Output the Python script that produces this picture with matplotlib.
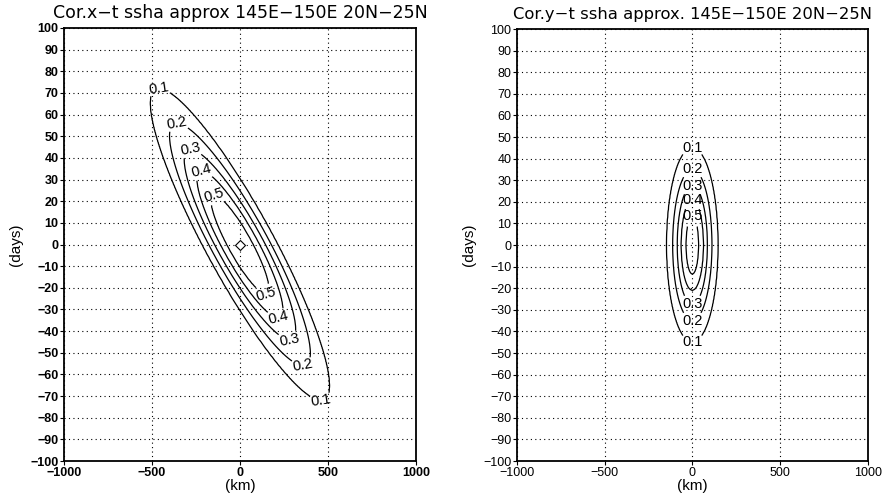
import numpy as np
import matplotlib
matplotlib.use("Agg")
import matplotlib.pyplot as plt

# contour levels drawn in both panels
levels = [0.1, 0.2, 0.3, 0.4, 0.5]

# Cor.x-t: half width at lag 0 (km) and half length along the ridge (days) per level
xt_halfwidth = [215, 178, 145, 112, 76]
xt_halflag = [72, 56, 44, 34, 23]
xt_speed = -6.4  # km/day, slope of the ridge

# Cor.y-t: half width at lag 0 (km) and half length in lag (days) per level
yt_halfwidth = [146, 112, 86, 64, 36]
yt_halflag = [45, 35, 27.5, 21, 13.5]
yt_speed = 0.0

# diamond marks the zero-lag point in the x-t panel
peak_x = [0]
peak_t = [0]

dist = np.linspace(-1000, 1000, 501)
lag = np.linspace(-100, 100, 401)
D, L = np.meshgrid(dist, lag)


def build_field(halfwidth, halflag, speed):
    # nested ellipses in (dist - speed*lag, lag), value interpolated between levels
    u = D - speed * L
    s = np.array([np.sqrt((u / a) ** 2 + (L / b) ** 2)
                  for a, b in zip(halfwidth, halflag)])
    lev = np.array(levels)
    n = (s < 1).sum(axis=0)
    field = np.empty_like(D)
    out = n == 0
    field[out] = lev[0] / s[0][out]
    inner = n == len(lev)
    field[inner] = lev[-1] + 0.1 * (1 - s[-1][inner])
    for k in range(1, len(lev)):
        m = n == k
        lo, hi = s[k - 1][m], s[k][m]
        field[m] = lev[k - 1] + (lev[k] - lev[k - 1]) * (1 - lo) / (hi - lo)
    return field


def draw_panel(ax, field, title, tsize, halflag, speed, bottom_labels, bold):
    cs = ax.contour(D, L, field, levels=levels, colors="black", linewidths=0.9)
    pos = [(speed * b, b) for b in halflag]
    pos += [(-speed * b, -b) for b in halflag[:bottom_labels]]
    ax.clabel(cs, manual=pos, fmt="%.1f", inline=True, inline_spacing=2,
              fontsize=10.5)

    ax.set_xlim(-1000, 1000)
    ax.set_ylim(-100, 100)
    ax.set_xticks([-1000, -500, 0, 500, 1000])
    ax.set_yticks(np.arange(-100, 101, 10))
    ax.grid(True, color="black", linestyle=(0, (1, 3)), linewidth=0.8)
    ax.tick_params(direction="out", length=3, width=0.8, labelsize=9, pad=1)
    for lab in ax.get_xticklabels() + ax.get_yticklabels():
        lab.set_fontweight("bold" if bold else "normal")
    for sp in ax.spines.values():
        sp.set_linewidth(1.3)
    ax.set_xlabel("(km)", fontsize=11, labelpad=0)
    ax.set_ylabel("(days)", fontsize=11, labelpad=5)
    ax.set_title(title, fontsize=tsize, pad=7, family=["DejaVu Sans"])


plt.rcParams["font.family"] = ["Liberation Sans", "DejaVu Sans"]
fig = plt.figure(figsize=(8.91, 5.0), dpi=100)
ax1 = fig.add_axes([0.0718, 0.078, 0.395, 0.866])
ax2 = fig.add_axes([0.580, 0.078, 0.394, 0.864])

draw_panel(ax1, build_field(xt_halfwidth, xt_halflag, xt_speed),
           "Cor.x\u2212t ssha approx 145E\u2212150E 20N\u221225N", 12.5,
           xt_halflag, xt_speed, 5, True)
ax1.plot(peak_x, peak_t, marker="D", markersize=5, mfc="white", mec="black",
         mew=0.8, linestyle="none")

draw_panel(ax2, build_field(yt_halfwidth, yt_halflag, yt_speed),
           "Cor.y\u2212t ssha approx. 145E\u2212150E 20N\u221225N", 11.8,
           yt_halflag, yt_speed, 3, False)

fig.savefig("out.png", dpi=100)
